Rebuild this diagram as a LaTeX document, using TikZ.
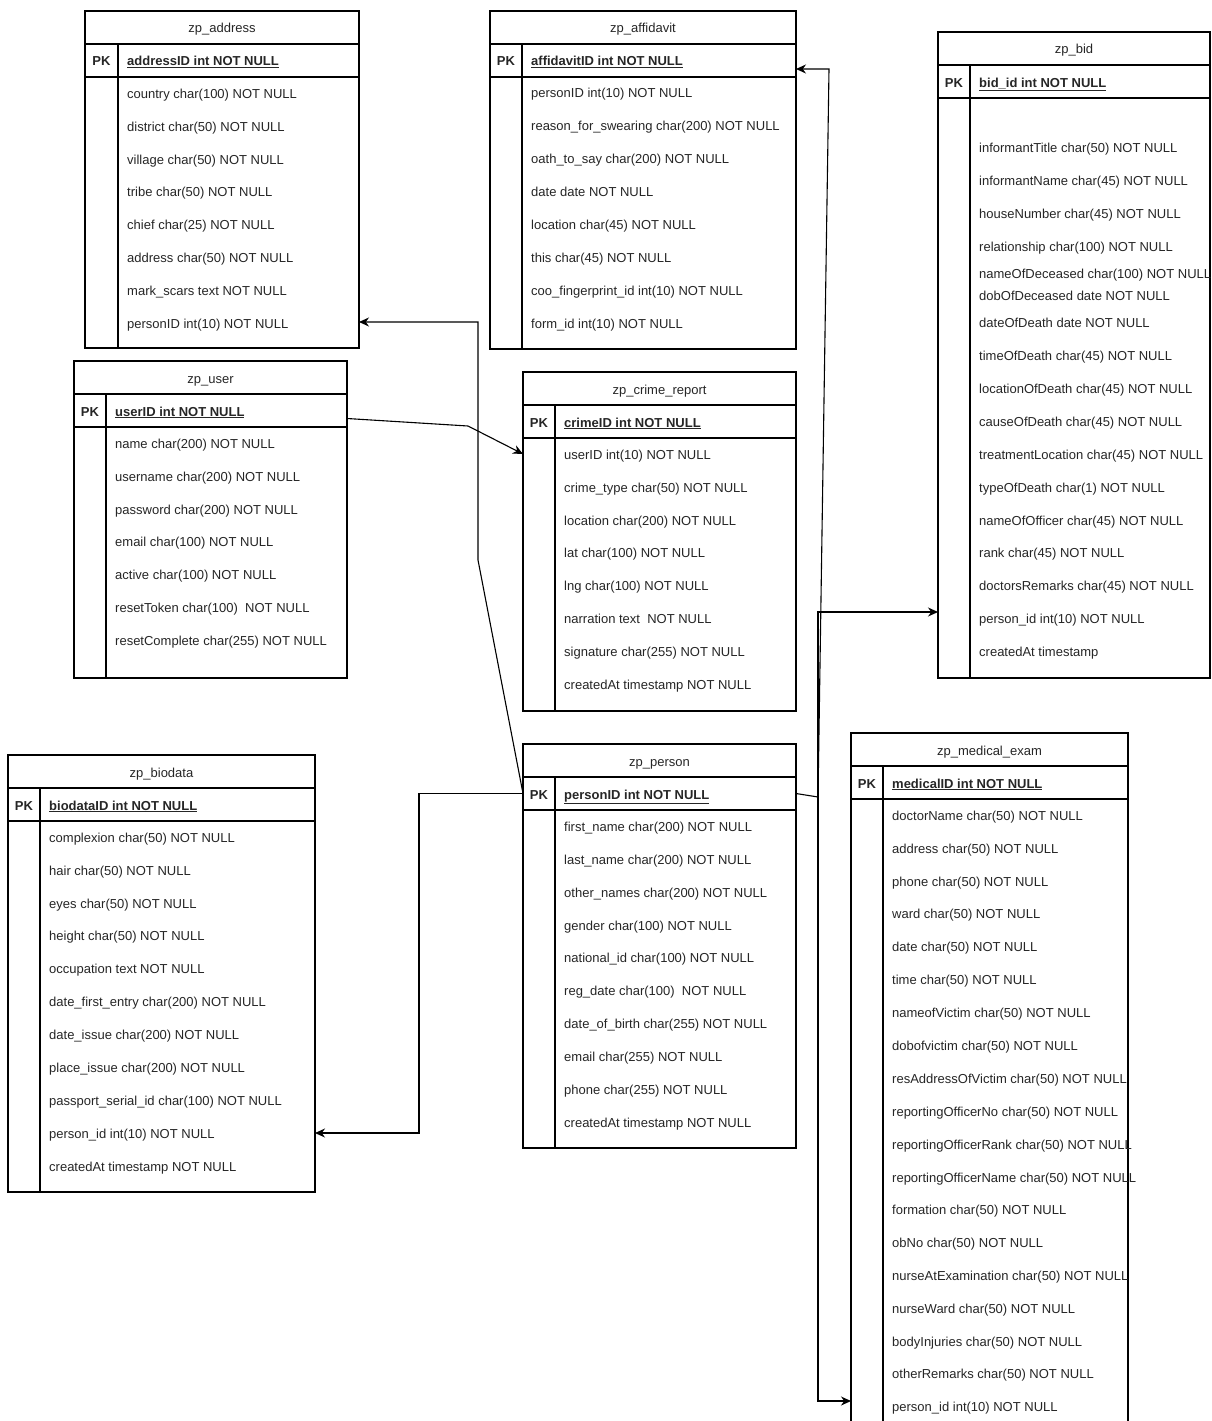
\documentclass[tikz,border=0pt]{standalone}
\usepackage{fontspec}
\setmainfont{Liberation Sans}
\usetikzlibrary{arrows.meta}

% one ER table: name, left x, top y, right x, key-column x, bottom y, title, key field, rows (y/text)
\newcommand\ertab[9]{%
  \node[frame, minimum width={(#4-#2)*1pt}, minimum height={(#6-#3)*1pt}] (#1) at (#2,#3) {};
  \draw[rule] (#2,{#3+33}) -- (#4,{#3+33});
  \draw[rule] (#2,{#3+66}) -- (#4,{#3+66});
  \draw[rule] (#5,{#3+33}) -- (#5,#6);
  \node[ttl] (#1-t) at ({(#2+#4)/2},{#3+16.5}) {#7};
  \node[pk] (#1-pk) at ({(#2+#5)/2},{#3+49.5}) {PK};
  \node[keyf] (#1-k) at ({#5+9},{#3+49.5}) {\underline{#8}};
  \foreach \yy/\txt [count=\i] in {#9} {\node[fld] (#1-r\i) at ({#5+9},\yy) {\txt};}
}

\tikzset{
  frame/.style={draw, line width=1.1pt, anchor=north west, inner sep=0pt, outer sep=0pt},
  rule/.style={line width=1.1pt},
  txt/.style={inner sep=0pt, text height=12pt, text depth=1pt, text=black!85,
              font=\fontsize{13}{15}\selectfont},
  ttl/.style={txt},
  pk/.style={txt, font=\fontsize{13}{15}\selectfont\bfseries},
  keyf/.style={txt, anchor=west, font=\fontsize{13}{15}\selectfont\bfseries},
  fld/.style={txt, anchor=west},
  link/.style={line width=1.1pt},
  arr/.style={link, -{Stealth[length=10pt,width=9pt]}},
}

\begin{document}
\begin{tikzpicture}[x=1pt,y=-1pt]
\fill[white] (0,0) rectangle (1211,1421);
\useasboundingbox (0,0) rectangle (1211,1421);
\clip (0,0) rectangle (1211,1421);

\ertab{addr}{85}{11}{359}{118}{348}{zp\_address}{addressID int NOT NULL}{
  93/country char(100) NOT NULL,
  126/district char(50) NOT NULL,
  159/village char(50) NOT NULL,
  191/tribe char(50) NOT NULL,
  224/chief char(25) NOT NULL,
  257/address char(50) NOT NULL,
  290/mark\_scars text NOT NULL,
  323/personID int(10) NOT NULL}

\ertab{aff}{490}{11}{796}{522}{349}{zp\_affidavit}{affidavitID int NOT NULL}{
  92/personID int(10) NOT NULL,
  125/reason\_for\_swearing char(200) NOT NULL,
  158/oath\_to\_say char(200) NOT NULL,
  191/date date NOT NULL,
  224/location char(45) NOT NULL,
  257/this char(45) NOT NULL,
  290/coo\_fingerprint\_id int(10) NOT NULL,
  323/form\_id int(10) NOT NULL}

\ertab{bid}{938}{32}{1210}{970}{678}{zp\_bid}{bid\_id int NOT NULL}{
  147/informantTitle char(50) NOT NULL,
  180/informantName char(45) NOT NULL,
  213/houseNumber char(45) NOT NULL,
  246/relationship char(100) NOT NULL,
  273/nameOfDeceased char(100) NOT NULL,
  295/dobOfDeceased date NOT NULL,
  322/dateOfDeath date NOT NULL,
  355/timeOfDeath char(45) NOT NULL,
  388/locationOfDeath char(45) NOT NULL,
  421/causeOfDeath char(45) NOT NULL,
  454/treatmentLocation char(45) NOT NULL,
  487/typeOfDeath char(1) NOT NULL,
  520/nameOfOfficer char(45) NOT NULL,
  552/rank char(45) NOT NULL,
  585/doctorsRemarks char(45) NOT NULL,
  618/person\_id int(10) NOT NULL,
  651/createdAt timestamp}

\ertab{user}{74}{361}{347}{106}{678}{zp\_user}{userID int NOT NULL}{
  443/name char(200) NOT NULL,
  476/username char(200) NOT NULL,
  509/password char(200) NOT NULL,
  541/email char(100) NOT NULL,
  574/active char(100) NOT NULL,
  607/resetToken char(100) ~NOT NULL,
  640/resetComplete char(255) NOT NULL}

\ertab{crime}{523}{372}{796}{555}{711}{zp\_crime\_report}{crimeID int NOT NULL}{
  454/userID int(10) NOT NULL,
  487/crime\_type char(50) NOT NULL,
  520/location char(200) NOT NULL,
  552/lat char(100) NOT NULL,
  585/lng char(100) NOT NULL,
  618/narration text ~NOT NULL,
  651/signature char(255) NOT NULL,
  684/createdAt timestamp NOT NULL}

\ertab{pers}{523}{744}{796}{555}{1148}{zp\_person}{personID int NOT NULL}{
  826/first\_name char(200) NOT NULL,
  859/last\_name char(200) NOT NULL,
  892/other\_names char(200) NOT NULL,
  925/gender char(100) NOT NULL,
  957/national\_id char(100) NOT NULL,
  990/reg\_date char(100) ~NOT NULL,
  1023/date\_of\_birth char(255) NOT NULL,
  1056/email char(255) NOT NULL,
  1089/phone char(255) NOT NULL,
  1122/createdAt timestamp NOT NULL}

\ertab{bio}{8}{755}{315}{40}{1192}{zp\_biodata}{biodataID int NOT NULL}{
  837/complexion char(50) NOT NULL,
  870/hair char(50) NOT NULL,
  903/eyes char(50) NOT NULL,
  935/height char(50) NOT NULL,
  968/occupation text NOT NULL,
  1001/date\_first\_entry char(200) NOT NULL,
  1034/date\_issue char(200) NOT NULL,
  1067/place\_issue char(200) NOT NULL,
  1100/passport\_serial\_id char(100) NOT NULL,
  1133/person\_id int(10) NOT NULL,
  1166/createdAt timestamp NOT NULL}

\ertab{med}{851}{733}{1128}{883}{1445}{zp\_medical\_exam}{medicalID int NOT NULL}{
  815/doctorName char(50) NOT NULL,
  848/address char(50) NOT NULL,
  881/phone char(50) NOT NULL,
  913/ward char(50) NOT NULL,
  946/date char(50) NOT NULL,
  979/time char(50) NOT NULL,
  1012/nameofVictim char(50) NOT NULL,
  1045/dobofvictim char(50) NOT NULL,
  1078/resAddressOfVictim char(50) NOT NULL,
  1111/reportingOfficerNo char(50) NOT NULL,
  1144/reportingOfficerRank char(50) NOT NULL,
  1177/reportingOfficerName char(50) NOT NULL,
  1209/formation char(50) NOT NULL,
  1242/obNo char(50) NOT NULL,
  1275/nurseAtExamination char(50) NOT NULL,
  1308/nurseWard char(50) NOT NULL,
  1341/bodyInjuries char(50) NOT NULL,
  1373/otherRemarks char(50) NOT NULL,
  1406/person\_id int(10) NOT NULL}

% bend points of the connectors
\coordinate (pa1) at (478,560);
\coordinate (pa2) at (478,322);
\coordinate (uc1) at (468,426);
\coordinate (pj) at (818,797);
\coordinate (pf) at (829,69);
\coordinate (pb) at (818,612);
\coordinate (pm) at (818,1401);
\coordinate (pbio1) at (419,793.5);
\coordinate (pbio2) at (419,1133);

% person -> address
\draw[arr] (pers.west |- pers-pk) -- (pa1) -- (pa2) -- (addr.east |- pa2);
% user -> crime report
\draw[arr] ([yshift=-8pt]user.east |- user-k) -- (uc1) -- (crime.west |- crime-r1);
% person -> affidavit
\draw[link] (pers.east |- pers-pk) -- (pj);
\draw[arr] (pj) -- (pf) -- (aff.east |- pf);
% person -> bid
\draw[arr] (pj) -- (pb) -- (bid.west |- pb);
% person -> medical exam
\draw[arr] (pj) -- (pm) -- (med.west |- pm);
% person -> biodata
\draw[arr] (pers.west |- pers-pk) -- (pbio1) -- (pbio2) -- (bio.east |- bio-r10);
\end{tikzpicture}
\end{document}
